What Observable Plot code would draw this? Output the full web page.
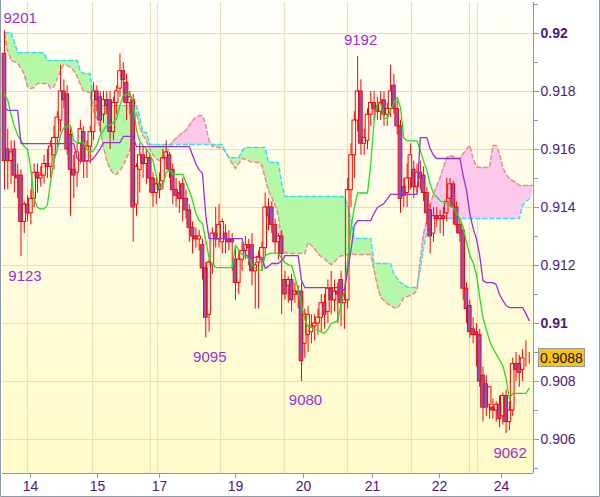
<!DOCTYPE html>
<html><head><meta charset="utf-8">
<script src="https://cdn.jsdelivr.net/npm/d3@7"></script>
<script src="https://cdn.jsdelivr.net/npm/@observablehq/plot@0.6"></script>
<style>
html,body{margin:0;padding:0;background:#fff;}
#chart{width:600px;height:497px;}
svg{display:block;}
</style></head>
<body><div id="chart"></div>
<script>
// ---- Data (prices in pips: 9156 = 0.9156) ----
const openP = [
9193,9160,9156,9160,9151,9151,9135,9141,9138,9143,
9152,9150,9151,9155,9154,9158,9164,9170,9180,9179,
9165,9153,9152,9162,9166,9156,9161,9166,9180,9178,
9172,9177,9177,9166,9176,9181,9187,9183,9176,9177,
9141,9153,9158,9155,9157,9150,9145,9148,9149,9157,
9158,9153,9146,9145,9148,9143,9139,9133,9130,9129,
9127,9119,9103,9120,9131,9129,9128,9131,9129,9129,
9122,9114,9122,9125,9127,9127,9118,9121,9122,9126,
9140,9140,9134,9128,9130,9115,9113,9115,9110,9111,
9111,9093,9096,9097,9099,9100,9102,9107,9104,9112,
9108,9111,9115,9107,9108,9146,9158,9170,9180,9162,
9163,9172,9176,9175,9173,9177,9172,9174,9182,9174,
9168,9147,9145,9150,9153,9147,9152,9151,9145,9139,
9131,9137,9136,9137,9138,9143,9148,9140,9134,9132,
9112,9106,9098,9097,9096,9082,9079,9072,9071,9070,
9072,9068,9075,9066,9070,9086,9086,9084,9088,9088];
const highP = [
9201,9167,9163,9163,9155,9153,9142,9144,9146,9155,
9155,9154,9158,9160,9163,9168,9173,9189,9184,9182,
9168,9158,9162,9170,9168,9163,9168,9183,9182,9180,
9180,9180,9180,9178,9182,9193,9190,9186,9180,9179,
9155,9162,9161,9160,9158,9152,9150,9152,9160,9163,
9159,9155,9150,9149,9150,9146,9141,9135,9133,9132,
9129,9121,9122,9133,9140,9141,9136,9134,9132,9131,
9126,9125,9128,9130,9129,9131,9121,9125,9128,9145,
9143,9142,9136,9131,9132,9118,9116,9117,9114,9113,
9114,9105,9106,9103,9103,9105,9110,9110,9115,9118,
9115,9114,9118,9111,9150,9162,9173,9192,9184,9167,
9174,9180,9180,9178,9180,9180,9176,9189,9186,9177,
9170,9150,9155,9162,9156,9155,9156,9154,9147,9141,
9140,9140,9139,9140,9150,9150,9149,9142,9136,9133,
9114,9108,9102,9100,9098,9085,9082,9078,9074,9073,
9075,9076,9077,9073,9088,9090,9089,9091,9094,9090];
const lowP = [
9146,9146,9148,9145,9143,9123,9131,9135,9134,9140,
9145,9147,9148,9150,9150,9153,9160,9166,9174,9158,
9137,9143,9147,9155,9150,9150,9155,9163,9173,9166,
9169,9172,9160,9163,9172,9178,9176,9170,9172,9128,
9137,9145,9150,9148,9145,9140,9141,9143,9146,9153,
9150,9141,9140,9138,9135,9136,9128,9124,9126,9125,
9115,9095,9097,9117,9126,9126,9124,9124,9125,9118,
9108,9110,9118,9122,9120,9113,9105,9105,9118,9123,
9132,9131,9124,9122,9103,9108,9107,9104,9107,9105,
9080,9088,9090,9093,9094,9096,9097,9098,9100,9103,
9104,9100,9099,9098,9105,9140,9150,9166,9158,9158,
9160,9168,9170,9170,9170,9168,9168,9171,9172,9165,
9138,9140,9140,9146,9143,9145,9146,9142,9134,9124,
9128,9133,9131,9130,9135,9140,9134,9131,9128,9108,
9100,9095,9093,9085,9078,9066,9068,9067,9067,9066,
9064,9065,9062,9063,9068,9080,9078,9080,9085,9086];
const closeP = [
9156,9156,9159,9151,9150,9135,9141,9138,9143,9152,
9150,9151,9155,9154,9161,9164,9171,9180,9177,9160,
9153,9151,9159,9167,9156,9161,9166,9180,9177,9170,
9177,9175,9166,9176,9180,9187,9184,9176,9178,9140,
9154,9158,9155,9157,9150,9145,9148,9146,9157,9159,
9153,9146,9144,9143,9143,9139,9133,9130,9129,9130,
9119,9102,9121,9131,9129,9134,9135,9129,9128,9128,
9114,9122,9125,9127,9126,9118,9120,9123,9126,9140,
9137,9134,9128,9130,9124,9110,9115,9108,9111,9110,
9087,9103,9103,9099,9100,9102,9107,9103,9112,9108,
9111,9110,9107,9108,9146,9158,9170,9180,9162,9164,
9172,9176,9174,9173,9176,9172,9174,9180,9174,9168,
9143,9144,9150,9158,9147,9152,9150,9145,9138,9130,
9137,9136,9137,9136,9142,9148,9140,9134,9131,9112,
9105,9097,9096,9096,9080,9071,9071,9078,9070,9072,
9067,9075,9066,9070,9086,9084,9083,9088,9088,9088];

// fast line (green)
const fastLine = [
9179,9177,9172,9168,9165,9163,9161,9160,9153,9143,
9140,9139.5,9139.5,9141,9149,9156,9160,9165,9167.6,9168,
9168.3,9163,9162.4,9162.4,9162.4,9160,9159,9159.7,9161.4,9164.8,
9166.6,9168.3,9168.3,9169.3,9170.7,9175.2,9178.6,9179,9179.3,9176.2,
9166.6,9162.8,9161.4,9160.3,9158.3,9156.2,9151,9146.6,9147.6,9152,
9153,9151.4,9151.4,9151.4,9151.4,9148.6,9145.9,9142.4,9138,9135.5,
9134.5,9128.6,9122.5,9120.5,9119.3,9119.3,9119.3,9119.3,9119.3,9119.3,
9127,9125.5,9123.8,9123,9122.4,9120.5,9119,9118.3,9118.3,9123.4,
9124,9124.3,9124.3,9124.1,9122.5,9121,9120.3,9120,9116,9111.5,
9106,9101.5,9099,9098.6,9098.2,9097.6,9097,9096.6,9098,9100,
9100.5,9101,9107,9111,9122,9133,9140,9145,9145,9145,
9145,9155,9170,9175.9,9175.9,9170.7,9170.7,9173.5,9176.2,9178,
9174.5,9164,9163,9163,9163,9163,9159.7,9156,9152.8,9148,
9144.8,9143.6,9142.4,9141.8,9141.4,9140.7,9140,9138,9136.2,9133.1,
9128,9123.5,9121,9117,9109,9102,9098,9094,9091.5,9089.5,
9087.5,9085.5,9081,9074,9075.9,9075.9,9075.9,9075.9,9075.9,9077.6];

// slow line (purple)
const slowLine = [
9174.5,9173.5,9173.5,9173.5,9173.5,9162,9162,9162,9162,9162,
9162,9162,9162,9162,9162,9162,9162,9162,9162,9162,
9162,9162,9157,9156,9156,9156,9156,9157,9158.6,9160.3,
9162.4,9162.4,9162.4,9162.4,9162.4,9162.4,9164.5,9164.5,9164.5,9164.5,
9161,9161,9161,9161,9161,9161,9161,9161,9161,9161,
9161,9161,9161,9161,9161,9161,9161,9158,9155,9153,
9151.7,9137.2,9129.3,9129.3,9129.3,9129.3,9129.3,9129.3,9129.3,9129.3,
9129.3,9129.3,9129.3,9124.1,9122.8,9122.8,9122.8,9122.8,9122.8,9119,
9119.7,9120.7,9120.7,9120.7,9121.7,9123.4,9123.4,9123.4,9123.4,9123.4,
9114.8,9112.4,9112.4,9112.4,9112.4,9112.4,9112.4,9112.4,9112.4,9112.4,
9112.4,9112.4,9112.4,9111.4,9118.3,9125.2,9133.8,9135.5,9135.5,9135.5,
9135.5,9135.5,9138,9140,9140.7,9141.4,9143,9144.5,9144.5,9144.5,
9144.5,9144.5,9144.5,9144.5,9144.5,9144.5,9164.1,9164.1,9164.1,9160.3,
9158,9156.9,9156.9,9156.9,9156.9,9156.9,9156.9,9156.9,9156.9,9151,
9145.9,9138,9132.8,9129.3,9123.4,9114.8,9114.1,9114.1,9114.1,9113.4,
9110,9108,9106.2,9105.5,9105.5,9105.5,9105.5,9105.5,9103.4,9101];

// cloud: span A (cyan) and span B (salmon), 161 points
const spanA = [
9200.3,9200.3,9200.3,9197,9193.4,9193.4,9193.4,9193.4,9193.4,9193.4,
9193.4,9193.4,9193.4,9190.7,9190.7,9190.7,9190.7,9190.7,9190.7,9190.7,
9190.7,9190.7,9190.7,9187,9186.2,9186.2,9186.2,9175.2,9175.2,9175.2,
9175.2,9175.2,9175.2,9175.2,9175.2,9175.2,9175.2,9175.2,9175.2,9175.2,
9175.2,9171,9166,9165.9,9161.7,9161.7,9161.7,9161.7,9161.7,9161.7,
9161.7,9161.7,9161.7,9161.7,9161.7,9161.7,9161.7,9161.7,9161.7,9161.7,
9161.7,9161.7,9161.7,9161.7,9161.7,9161.7,9161.7,9159,9157.5,9157.2,
9157.2,9157.2,9159.5,9160.7,9160.7,9160.7,9160.7,9160.7,9160.7,9160.7,
9155.5,9155.5,9155.5,9155.5,9148,9143.8,9143.8,9143.8,9143.8,9143.8,
9143.8,9143.8,9143.8,9143.8,9143.8,9143.8,9143.8,9143.8,9143.8,9143.8,
9143.8,9143.8,9143.8,9143.5,9140.7,9136,9129.3,9129.3,9129.3,9129.3,
9129.3,9129.3,9120.7,9120.7,9120.7,9120.7,9120.7,9120.7,9117,9115.5,
9114.1,9113.5,9112.6,9112.4,9112.4,9112.4,9119,9126.2,9131.4,9134.8,
9136.2,9136.2,9136.2,9136.2,9136.2,9136.2,9136.2,9136.2,9136.2,9136.2,
9136.2,9136.2,9136.2,9136.2,9136.2,9136.2,9136.2,9136.2,9136.2,9136.2,
9136.2,9136.2,9136.2,9136.2,9136.2,9136.2,9136.2,9140.7,9142,9143,
9143.5];
const spanB = [
9199.7,9194,9190.7,9190.3,9189.7,9188,9185.9,9181.7,9181,9181.4,
9182.8,9182.8,9182.8,9182.8,9181,9181.7,9184.5,9187.2,9189.3,9189,
9188.3,9187.2,9185.2,9182.4,9180,9180,9179.5,9173.5,9170.7,9167.6,
9160.7,9156.2,9153.4,9151.7,9151.4,9152.8,9154.5,9157,9159.7,9168.3,
9172.8,9167.6,9164.8,9163,9160.3,9158,9156.9,9156.2,9156.9,9158.3,
9160.7,9162.8,9163.8,9164.8,9165.9,9166.6,9168.3,9170,9171,9171.7,
9171.7,9168.3,9163,9161,9161,9160.7,9160.7,9159,9157.2,9155.2,
9153.4,9155.2,9156.9,9156.6,9156.2,9155.5,9155.5,9155.5,9154.5,9150,
9145.9,9143.4,9140.7,9137.2,9126.9,9124.5,9124.1,9124.1,9124.1,9124.1,
9124.1,9124.1,9128,9127,9125.5,9124.1,9123,9122.4,9121,9120.3,
9121,9122.8,9123.4,9123.4,9123.8,9124.1,9123.8,9123.8,9123.8,9123.8,
9123.8,9123.8,9118.3,9113.1,9109,9107.9,9106.9,9106.2,9105.5,9105.2,
9106.9,9109,9109.3,9109.7,9110.3,9111.4,9122,9131,9135.5,9140.7,
9144.8,9147.6,9150.3,9153.8,9157.2,9157.9,9157.6,9156.9,9156.9,9158.6,
9160,9161.4,9156.9,9154.1,9153.8,9153.8,9153.8,9153.8,9161.4,9161.4,
9158.6,9153.8,9151.4,9150,9149.3,9148.6,9147.6,9147.6,9147.6,9147.6,
9147.6];

// extreme labels
const extIndex = [0, 5, 61, 107, 90, 152];
const extValue = [9201, 9123, 9095, 9192, 9080, 9062];
const extKind  = ["high", "low", "low", "high", "low", "low"];

// axes
const yTickValues = [0.906, 0.908, 0.91, 0.912, 0.914, 0.916, 0.918, 0.92];
const yBoldValues = [0.91, 0.92];
const yMinorValues = [0.905, 0.907, 0.909, 0.911, 0.913, 0.915, 0.917, 0.919, 0.921];
const dayTickIndex = [7.9, 28.2, 47, 70, 90.6, 111.5, 131.8, 150.6];
const dayLabels = ["14", "15", "17", "19", "20", "21", "22", "24"];
const gridIndex = [7, 26.7, 44.2, 46.4, 65.5, 84.8, 103.9, 123.3, 140.9, 143.3];
const lastPrice = 9088;

// ---- Build ----
const P = v => v / 10000;
const candles = openP.map((o, i) => ({
  i, o: P(o), h: P(highP[i]), l: P(lowP[i]), c: P(closeP[i])
}));
const lines = fastLine.map((g, i) => ({i, g: P(g), p: P(slowLine[i])}));
const cloud = spanA.map((a, i) => ({i, a: P(a), b: P(spanB[i]), top: P(Math.max(a, spanB[i]))}));
const ext = extIndex.map((i, k) => ({i, v: P(extValue[k]), t: String(extValue[k]), kind: extKind[k], k}));
const dayMap = new Map(dayTickIndex.map((d, k) => [d, dayLabels[k]]));

const xDomain = [-0.6, 160.3];
const yDomain = [0.904828, 0.921069];
const gridColor = "#e4e0b4";
const axisGray = "#8a9aa8";
const labelColor = "#4e1a78";
const extColor = "#9b30d0";
const bearFill = "#8559c2";
const red = "#ff0000";

const plot = Plot.plot({
  width: 600, height: 497,
  marginLeft: 2, marginRight: 67, marginTop: 2, marginBottom: 24,
  x: {domain: xDomain, axis: null},
  y: {domain: yDomain, axis: null},
  style: {fontFamily: "'Liberation Sans', Arial, sans-serif", background: "transparent", overflow: "visible"},
  marks: [
    Plot.frame({fill: "url(#bgGrad)", stroke: "none"}),
    Plot.ruleY(yTickValues, {stroke: gridColor}),
    Plot.ruleX(gridIndex, {stroke: gridColor}),
    Plot.areaY(cloud, {x: "i", y1: "b", y2: "top", fill: "#b4f8a8"}),
    Plot.areaY(cloud, {x: "i", y1: "a", y2: "top", fill: "#fcc8ec"}),
    Plot.line(cloud, {x: "i", y: "b", stroke: "#f08888", strokeWidth: 1.5, strokeDasharray: "4,3"}),
    Plot.line(cloud, {x: "i", y: "a", stroke: "#3fdcf0", strokeWidth: 1.5, strokeDasharray: "4,3"}),
    Plot.ruleX(candles, {x: "i", y1: "h", y2: d => Math.max(d.o, d.c), stroke: red, strokeWidth: 1}),
    Plot.ruleX(candles, {x: "i", y1: "l", y2: d => Math.min(d.o, d.c), stroke: red, strokeWidth: 1}),
    Plot.rect(candles.filter(d => d.c < d.o), {x1: d => d.i - 0.55, x2: d => d.i + 0.55, y1: "o", y2: "c", fill: bearFill, stroke: red, strokeWidth: 1}),
    Plot.rect(candles.filter(d => d.c >= d.o), {x1: d => d.i - 0.55, x2: d => d.i + 0.55, y1: "o", y2: "c", fill: "none", stroke: red, strokeWidth: 1}),
    Plot.line(lines, {x: "i", y: "g", stroke: "#22dd22", strokeWidth: 1.3}),
    Plot.line(lines, {x: "i", y: "p", stroke: "#9933cc", strokeWidth: 1.3}),
    Plot.text(ext.filter(d => d.k === 0), {x: "i", y: "v", text: "t", textAnchor: "start", dx: -1, dy: -12, fill: extColor, fontSize: 15}),
    Plot.text(ext.filter(d => d.k !== 0 && d.kind === "high"), {x: "i", y: "v", text: "t", dx: 3, dy: -17, fill: extColor, fontSize: 15}),
    Plot.text(ext.filter(d => d.kind === "low"), {x: "i", y: "v", text: "t", dx: 4, dy: 19, fill: extColor, fontSize: 15}),
    Plot.ruleX([xDomain[1]], {stroke: axisGray}),
    Plot.ruleY([yDomain[0]], {stroke: axisGray}),
    Plot.axisY(yMinorValues, {anchor: "right", label: null, tickSize: 4, tickFormat: () => "", stroke: axisGray, fill: labelColor}),
    Plot.axisY(yTickValues.filter(v => !yBoldValues.includes(v)), {anchor: "right", label: null, tickSize: 5, tickPadding: 2, tickFormat: d3.format(".3f"), stroke: axisGray, fill: labelColor, fontSize: 14}),
    Plot.axisY(yBoldValues, {anchor: "right", label: null, tickSize: 5, tickPadding: 2, tickFormat: d => String(d), stroke: axisGray, fill: labelColor, fontSize: 14, fontWeight: "bold"}),
    Plot.axisX(dayTickIndex, {anchor: "bottom", label: null, tickSize: 5, tickPadding: 3, tickFormat: d => dayMap.get(d), stroke: axisGray, fill: labelColor, fontSize: 14})
  ]
});

const svg = d3.select(plot);
const defs = svg.insert("defs", ":first-child");
const grad = defs.append("linearGradient").attr("id", "bgGrad").attr("x1", 0).attr("y1", 0).attr("x2", 0).attr("y2", 1);
grad.append("stop").attr("offset", "0%").attr("stop-color", "#fffffa");
grad.append("stop").attr("offset", "100%").attr("stop-color", "#fffbc8");

// last price box
const ys = plot.scale("y");
const yy = ys.apply(P(lastPrice));
const box = svg.append("g");
box.append("rect").attr("x", 538.5).attr("y", Math.round(yy) - 9.5).attr("width", 46).attr("height", 18)
  .attr("fill", "#ffc20e").attr("stroke", axisGray);
box.append("text").attr("x", 561.5).attr("y", yy).attr("dy", "0.36em").attr("text-anchor", "middle")
  .attr("font-size", 14).attr("fill", "#111").text(d3.format(".4f")(P(lastPrice)));

// outer border
svg.append("path").attr("d", "M0.5,0 V496.5 H599.5 V0").attr("fill", "none").attr("stroke", axisGray);

document.getElementById("chart").appendChild(plot);
</script>
</body></html>
